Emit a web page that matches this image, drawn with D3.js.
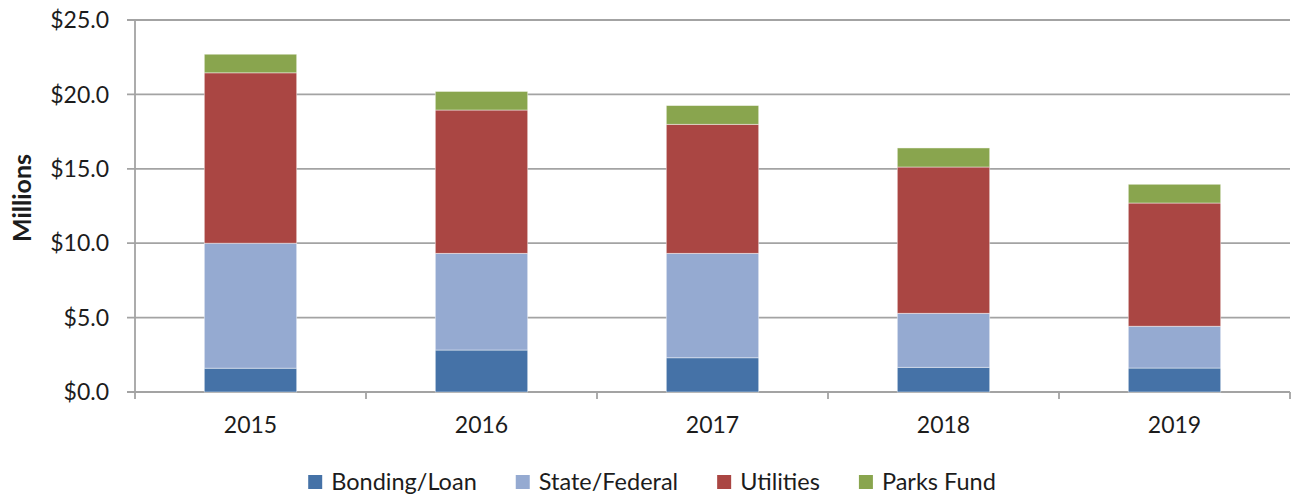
<!DOCTYPE html>
<html>
<head>
<meta charset="utf-8">
<script src="https://cdn.jsdelivr.net/npm/d3@7"></script>
<style>
  html, body { margin: 0; padding: 0; background: #fff; }
  svg { display: block; font-family: Lato, "Open Sans", sans-serif; }
</style>
</head>
<body>
<svg id="chart" width="1293" height="496"></svg>
<script>
// Capital funding sources by year, in millions of dollars
const years = ["2015", "2016", "2017", "2018", "2019"];
const seriesNames = ["Bonding/Loan", "State/Federal", "Utilities", "Parks Fund"];
const bondingLoan  = [1.6, 2.82, 2.3, 1.66, 1.61];
const stateFederal = [8.4, 6.5, 7.02, 3.63, 2.81];
const utilities    = [11.45, 9.63, 8.67, 9.83, 8.28];
const parksFund    = [1.25, 1.25, 1.26, 1.28, 1.26];
const yTicks = [0, 5, 10, 15, 20, 25];
const colors = ["#4572a7", "#95aad1", "#aa4643", "#89a54e"];

const seriesValues = [bondingLoan, stateFederal, utilities, parksFund];
const rows = years.map((y, i) => {
  const r = { year: y };
  seriesNames.forEach((s, k) => { r[s] = seriesValues[k][i]; });
  return r;
});

const svg = d3.select("#chart");
const margin = { left: 135, right: 3, top: 20, bottom: 104 };
const W = 1293, H = 496;
const x0 = margin.left, x1 = W - margin.right;
const y0 = H - margin.bottom, y1 = margin.top;

const x = d3.scaleBand().domain(years).range([x0, x1]).paddingInner(0.6).paddingOuter(0.3);
const y = d3.scaleLinear().domain([0, 25]).range([y0, y1]);

const grid = "#a3a3a3";
const ink = "#1c1c1c";

// horizontal gridlines with short ticks left of the axis
svg.append("g")
  .selectAll("line")
  .data(yTicks)
  .join("line")
  .attr("x1", x0 - 8).attr("x2", x1)
  .attr("y1", d => y(d)).attr("y2", d => y(d))
  .attr("stroke", grid).attr("stroke-width", 1.8);

// y tick labels
svg.append("g")
  .selectAll("text")
  .data(yTicks)
  .join("text")
  .attr("x", x0 - 26)
  .attr("y", d => y(d))
  .attr("dy", "0.36em")
  .attr("text-anchor", "end")
  .attr("font-size", 23)
  .attr("fill", ink)
  .text(d => "$" + d3.format(".1f")(d));

// vertical axis line
svg.append("line")
  .attr("x1", x0).attr("x2", x0)
  .attr("y1", y1).attr("y2", y0 + 7)
  .attr("stroke", grid).attr("stroke-width", 1.8);

// category boundary ticks below the baseline
const boundaries = d3.range(1, years.length + 1).map(i => x0 + i * (x1 - x0) / years.length);
svg.append("g")
  .selectAll("line")
  .data(boundaries)
  .join("line")
  .attr("x1", d => d).attr("x2", d => d)
  .attr("y1", y0).attr("y2", y0 + 7)
  .attr("stroke", grid).attr("stroke-width", 1.8);

// stacked bars
const stack = d3.stack().keys(seriesNames);
const layers = stack(rows);
svg.append("g")
  .selectAll("g")
  .data(layers)
  .join("g")
  .attr("fill", (d, i) => colors[i])
  .selectAll("rect")
  .data(d => d)
  .join("rect")
  .attr("x", d => x(d.data.year))
  .attr("width", x.bandwidth())
  .attr("y", d => y(d[1]))
  .attr("height", d => y(d[0]) - y(d[1]))
  .attr("stroke", "#ffffff")
  .attr("stroke-opacity", 0.55)
  .attr("stroke-width", 0.8);

// x labels
svg.append("g")
  .selectAll("text")
  .data(years)
  .join("text")
  .attr("x", d => x(d) + x.bandwidth() / 2)
  .attr("y", 433)
  .attr("text-anchor", "middle")
  .attr("font-size", 23)
  .attr("fill", ink)
  .text(d => d);

// y axis title
svg.append("text")
  .attr("transform", "translate(31,198) rotate(-90)")
  .attr("text-anchor", "middle")
  .attr("font-size", 25)
  .attr("font-weight", "bold")
  .attr("fill", ink)
  .text("Millions");

// legend
const legend = svg.append("g").attr("transform", "translate(0,490)");
const items = legend.selectAll("g")
  .data(seriesNames)
  .join("g");
items.append("rect")
  .attr("x", 0).attr("y", -15)
  .attr("width", 14).attr("height", 14)
  .attr("fill", (d, i) => colors[i]);
items.append("text")
  .attr("x", 23).attr("y", 0)
  .attr("font-size", 23.5)
  .attr("fill", ink)
  .text(d => d);
const widths = [];
items.each(function () {
  widths.push(this.querySelector("text").getComputedTextLength() + 23);
});
const gap = 39;
const total = d3.sum(widths) + gap * (widths.length - 1);
let cx = 652 - total / 2;
items.attr("transform", (d, i) => {
  const t = `translate(${cx},0)`;
  cx += widths[i] + gap;
  return t;
});
</script>
</body>
</html>
